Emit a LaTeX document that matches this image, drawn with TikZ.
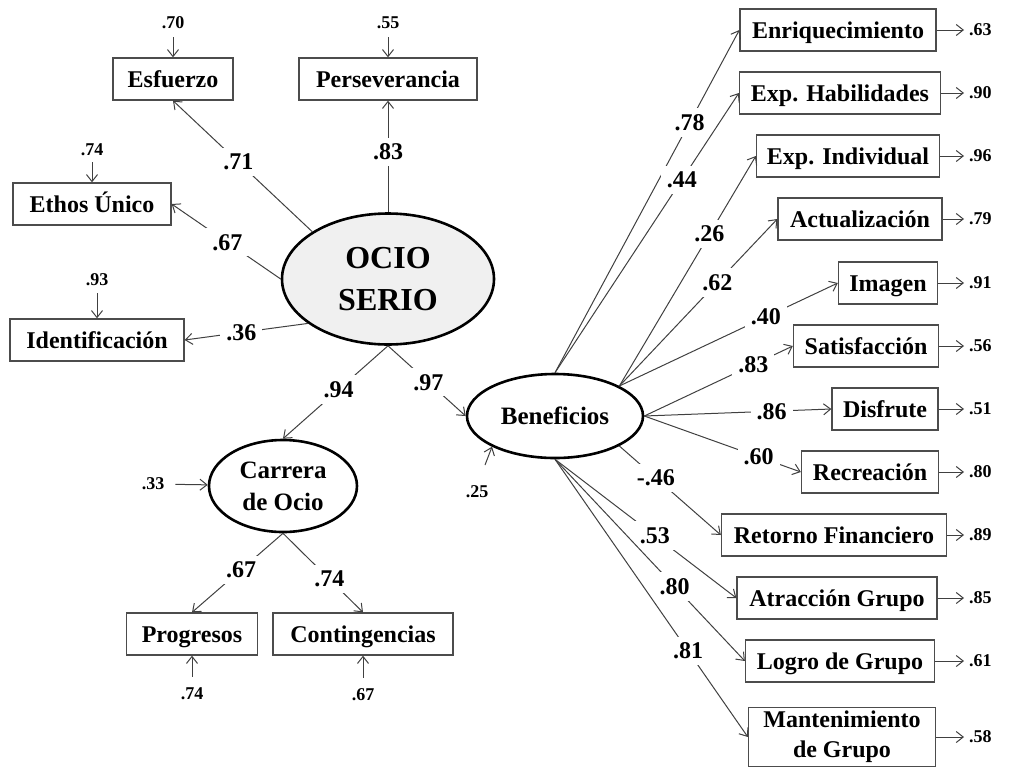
\documentclass[tikz,border=0pt]{standalone}
\usepackage{fontspec}
\setmainfont{Liberation Serif}
\usetikzlibrary{arrows.meta,shapes.geometric}

\tikzset{
  obs/.style={draw=black!70, line width=1.3pt, fill=white, align=center,
    minimum height=42pt, inner xsep=6pt, font=\bfseries\fontsize{24}{30}\selectfont},
  oneline/.style={text height=16pt, text depth=0pt},
  twoline/.style={yshift=0pt},
  lat/.style={ellipse, draw=black, line width=2.6pt, inner sep=0pt, align=center,
    font=\bfseries\fontsize{25}{32}\selectfont},
  coef/.style={fill=white, inner xsep=6pt, inner ysep=6pt,
    font=\bfseries\fontsize{24}{24}\selectfont},
  err/.style={inner sep=1pt, font=\bfseries\fontsize{18}{18}\selectfont},
  link/.style={draw=black!75, line width=1pt, -{Straight Barb[length=7pt,width=11pt]}},
}

\begin{document}
\begin{tikzpicture}[x=1pt,y=-1pt]
  \useasboundingbox (0,0) rectangle (1035,774);

  % latent variables
  \node[lat, fill=black!6, minimum width=212pt, minimum height=131pt,
    font=\bfseries\fontsize{32}{42}\selectfont] (ocio) at (388,279) {OCIO\\SERIO};
  \node[lat, fill=white, minimum width=148pt, minimum height=92pt] (car) at (283,486) {Carrera\\de Ocio};
  \node[lat, fill=white, minimum width=176pt, minimum height=84pt] (ben) at (555,416) {Beneficios};

  % indicators of ocio serio and carrera
  \node[obs, oneline, minimum width=120pt] (esf) at (173,79) {Esfuerzo};
  \node[obs, oneline, minimum width=178pt] (per) at (388,79) {Perseverancia};
  \node[obs, oneline, minimum width=158pt] (eth) at (92,204) {Ethos Único};
  \node[obs, oneline, minimum width=174pt] (ide) at (97,340) {Identificación};
  \node[obs, oneline, minimum width=131pt] (pro) at (192,634) {Progresos};
  \node[obs, oneline, minimum width=180pt] (con) at (363,634) {Contingencias};

  \draw[link] (ocio.148) -- node[coef, pos=0.53] {.71} (esf.south);
  \draw[link] (ocio.north) -- node[coef, pos=0.54] {.83} (per.south);
  \draw[link] (ocio.west) -- node[coef, pos=0.49] {.67} (eth.east);
  \draw[link] (ocio.209) -- node[coef, pos=0.54] {.36} (ide.east);
  \draw[link] (ocio.south) -- node[coef, pos=0.47] {.94} (car.north);
  \draw[link] (ocio.south) -- node[coef, pos=0.52] {.97} (ben.west);
  \draw[link] (car.south) -- node[coef, pos=0.46] {.67} (pro.north);
  \draw[link] (car.south) -- node[coef, pos=0.58] {.74} (con.north);

  % error terms, left part
  \foreach \nm/\x/\y/\er/\to/\sh in {
      e1/173/23/.70/esf/7pt, e2/388/23/.55/per/7pt,
      e3/92/150/.74/eth/5pt, e4/97/280/.93/ide/6pt,
      e5/153/484/.33/car/10pt, e6/192/694/.74/pro/10pt,
      e7/363/695/.67/con/10pt} {
    \node[err] (\nm) at (\x,\y) {\er};
    \draw[link, shorten <=\sh] (\nm) -- (\to);
  }
  \node[err] (e8) at (477,492) {.25};
  \coordinate (c8) at (485,465);
  \draw[link] (c8) -- (ben.206);

  % indicators of beneficios
  \foreach \nm/\x/\y/\w/\lines/\txt/\st/\p/\ce/\er in {
      enr/838/30/196pt/oneline/Enriquecimiento/north/0.73/.78/.63,
      hab/840/93/201pt/oneline/Exp. Habilidades/north/0.69/.44/.90,
      ind/848/156/183pt/oneline/Exp. Individual/25/0.66/.26/.96,
      act/860/219/164pt/oneline/Actualización/25/0.62/.62/.79,
      ima/888/283/99pt/oneline/Imagen/25/0.67/.40/.91,
      sat/866/346/145pt/oneline/Satisfacción/east/0.735/.83/.56,
      dis/885/409/106pt/oneline/Disfrute/east/0.68/.86/.51,
      rec/870/472/137pt/oneline/Recreación/east/0.73/.60/.80,
      ret/834/535/225pt/oneline/Retorno Financiero/-25/0.36/-.46/.89,
      atr/837/598/200pt/oneline/Atracción Grupo/south/0.55/.53/.85,
      log/840/661/189pt/oneline/Logro de Grupo/south/0.63/.80/.61,
      man/842/737/187pt/twoline/Mantenimiento\\de Grupo/south/0.69/.81/.58} {
    \node[obs, \lines, minimum width=\w] (\nm) at (\x,\y) {\txt};
    \node[err, anchor=west] (r\nm) at (968,\y) {\er};
    \draw[link, shorten >=4pt] (\nm.east) -- (r\nm.west);
    \draw[link] (ben.\st) -- node[coef, pos=\p] {\ce} (\nm.west);
  }
\end{tikzpicture}
\end{document}
